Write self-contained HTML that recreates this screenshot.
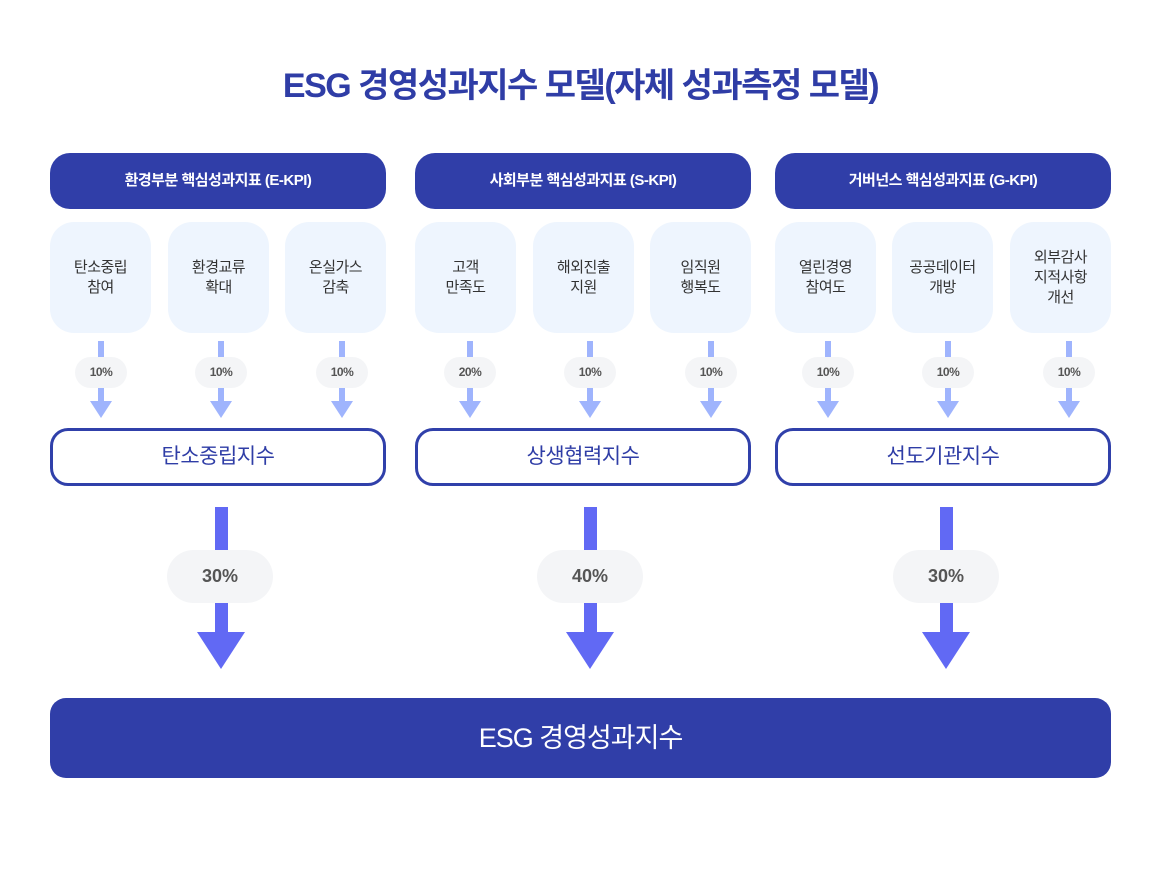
<!DOCTYPE html>
<html><head><meta charset="utf-8"><style>
body{margin:0;width:1161px;height:880px;background:#fff;position:relative;overflow:hidden;font-family:"Liberation Sans","Noto Sans CJK KR",sans-serif}
.a{position:absolute}
.t{left:0;width:1161px;top:58px;text-align:center;font-size:34px;font-weight:bold;color:#2f3da6;letter-spacing:-1.5px}
.h{background:#303ea8;color:#fff;border-radius:20px;height:56px;top:153px;width:336px;text-align:center;line-height:56px;font-size:15px;font-weight:bold;letter-spacing:-0.5px}
.c{background:#eef5fe;border-radius:24px;top:222px;height:111px;width:101px;display:flex;align-items:center;justify-content:center;text-align:center;font-size:15px;color:#333;line-height:20px;letter-spacing:-0.5px}
.s{width:6px;background:#9fb4fd;top:341px;height:62px}
.sh{top:401px;width:0;height:0;border-left:11px solid transparent;border-right:11px solid transparent;border-top:17px solid #9fb4fd}
.p{background:#f4f5f7;border-radius:16px;top:357px;height:31px;width:52px;text-align:center;line-height:31px;font-size:12px;font-weight:bold;color:#555;letter-spacing:-0.5px}
.i{top:428px;height:52px;width:330px;border:3px solid #3040aa;border-radius:18px;text-align:center;line-height:52px;font-size:21px;color:#2f3da6;letter-spacing:-0.5px}
.b{width:13px;background:#6169f4;top:507px;height:127px}
.bh{top:632px;width:0;height:0;border-left:24px solid transparent;border-right:24px solid transparent;border-top:37px solid #6169f4}
.bp{background:#f4f5f7;border-radius:27px;top:550px;height:53px;width:106px;text-align:center;line-height:53px;font-size:18px;font-weight:bold;color:#555}
.f{left:50px;top:698px;width:1061px;height:80px;background:#303ea8;border-radius:16px;color:#fff;text-align:center;line-height:80px;font-size:27px;letter-spacing:-1px}
</style></head><body>
<div class="a t">ESG 경영성과지수 모델(자체 성과측정 모델)</div>

<div class="a h" style="left:50px">환경부분 핵심성과지표 (E-KPI)</div>
<div class="a h" style="left:415px">사회부분 핵심성과지표 (S-KPI)</div>
<div class="a h" style="left:775px">거버넌스 핵심성과지표 (G-KPI)</div>

<div class="a c" style="left:50px">탄소중립<br>참여</div>
<div class="a c" style="left:168px">환경교류<br>확대</div>
<div class="a c" style="left:285px">온실가스<br>감축</div>
<div class="a c" style="left:415px">고객<br>만족도</div>
<div class="a c" style="left:533px">해외진출<br>지원</div>
<div class="a c" style="left:650px">임직원<br>행복도</div>
<div class="a c" style="left:775px">열린경영<br>참여도</div>
<div class="a c" style="left:892px">공공데이터<br>개방</div>
<div class="a c" style="left:1010px">외부감사<br>지적사항<br>개선</div>

<div class="a s" style="left:98px"></div><div class="a sh" style="left:90px"></div><div class="a p" style="left:75px">10%</div>
<div class="a s" style="left:218px"></div><div class="a sh" style="left:210px"></div><div class="a p" style="left:195px">10%</div>
<div class="a s" style="left:339px"></div><div class="a sh" style="left:331px"></div><div class="a p" style="left:316px">10%</div>
<div class="a s" style="left:467px"></div><div class="a sh" style="left:459px"></div><div class="a p" style="left:444px">20%</div>
<div class="a s" style="left:587px"></div><div class="a sh" style="left:579px"></div><div class="a p" style="left:564px">10%</div>
<div class="a s" style="left:708px"></div><div class="a sh" style="left:700px"></div><div class="a p" style="left:685px">10%</div>
<div class="a s" style="left:825px"></div><div class="a sh" style="left:817px"></div><div class="a p" style="left:802px">10%</div>
<div class="a s" style="left:945px"></div><div class="a sh" style="left:937px"></div><div class="a p" style="left:922px">10%</div>
<div class="a s" style="left:1066px"></div><div class="a sh" style="left:1058px"></div><div class="a p" style="left:1043px">10%</div>

<div class="a i" style="left:50px">탄소중립지수</div>
<div class="a i" style="left:415px">상생협력지수</div>
<div class="a i" style="left:775px">선도기관지수</div>

<div class="a b" style="left:215px"></div><div class="a bh" style="left:197px"></div><div class="a bp" style="left:167px">30%</div>
<div class="a b" style="left:584px"></div><div class="a bh" style="left:566px"></div><div class="a bp" style="left:537px">40%</div>
<div class="a b" style="left:940px"></div><div class="a bh" style="left:922px"></div><div class="a bp" style="left:893px">30%</div>

<div class="a f">ESG 경영성과지수</div>
</body></html>
